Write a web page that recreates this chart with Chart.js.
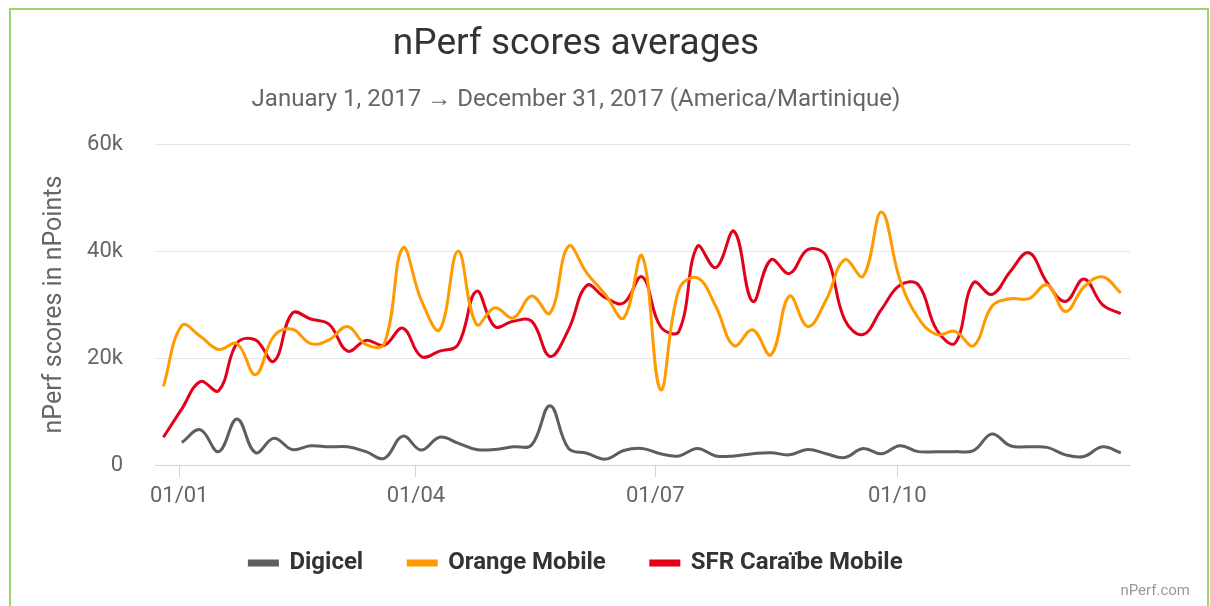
<!DOCTYPE html>
<html>
<head>
<meta charset="utf-8">
<script src="https://cdn.jsdelivr.net/npm/chart.js@4.4.0/dist/chart.umd.min.js"></script>
<style>
    html, body { margin: 0; padding: 0; background: #fff; }
    body { width: 1210px; height: 606px; overflow: hidden; position: relative; font-family: Roboto, sans-serif; }
    #frame { position: absolute; left: 9px; top: 8px; width: 1196px; height: 700px; border: 2px solid #9dd46c; }
    #wrap { position: absolute; left: 0; top: 0; width: 1210px; height: 606px; }
    #credit { position: absolute; right: 20px; bottom: 7px; font-size: 15px; color: #999; }
</style>
</head>
<body>
<div id="frame"></div>
<div id="wrap"><canvas id="scoreChart"></canvas></div>
<div id="credit">nPerf.com</div>
<script>
// weekly points, first week starts Mon 26/12/2016 (day -6 from 01/01/2017)
const weekDays = Array.from({ length: 53 }, (_, i) => -6 + 7 * i);

const digicel = [null, 4200, 6600, 2500, 8600, 2300, 5000, 2900, 3600, 3400, 3400, 2500, 1250, 5400,
    2800, 5200, 4100, 2900, 2900, 3400, 3750, 11100, 3100, 2200, 1100, 2700, 3100, 2100, 1700, 3100,
    1700, 1700, 2100, 2300, 1900, 2900, 2100, 1400, 3100, 2100, 3600, 2500, 2500, 2500, 2700, 5800,
    3600, 3400, 3300, 1900, 1600, 3400, 2300];

const orange = [14700, 26100, 24100, 21600, 22700, 16900, 24100, 25400, 22700, 23400, 25900, 22500,
    22700, 40600, 30900, 25300, 40000, 26300, 29400, 27500, 31600, 28400, 40900, 35900, 31900, 27500,
    39100, 14100, 32800, 35000, 29700, 22300, 25300, 20600, 31600, 25900, 30900, 38400, 35300, 47300,
    34700, 27500, 24400, 25000, 22300, 29700, 31100, 31100, 33700, 28700, 33300, 35200, 32200];

const sfr = [5200, 10500, 15600, 13900, 22800, 23400, 19400, 28400, 27300, 26300, 21300, 23300, 22400,
    25600, 20300, 21300, 22500, 32500, 25900, 26900, 26900, 20300, 25300, 33600, 31300, 30300, 35200,
    25900, 25000, 40900, 36900, 43700, 30600, 38400, 35800, 40300, 39100, 27200, 24400, 29100, 33600,
    33700, 25300, 22800, 34100, 31900, 36200, 39700, 34100, 30600, 34800, 30000, 28300];

const seriesNames = ["Digicel", "Orange Mobile", "SFR Caraïbe Mobile"];
const seriesColors = ["#5e5e5e", "#ff9a00", "#e3001b"];

const xTickDays = [0, 90, 181, 273];
const xTickLabels = ["01/01", "01/04", "01/07", "01/10"];
const yTickValues = [0, 20000, 40000, 60000];
const yTickLabels = ["0", "20k", "40k", "60k"];

function toPoints(values) {
    return values.map((v, i) => ({ x: weekDays[i], y: v }));
}

const datasets = [digicel, orange, sfr].map((values, i) => ({
    label: seriesNames[i],
    data: toPoints(values),
    borderColor: seriesColors[i],
    backgroundColor: seriesColors[i],
    borderWidth: 3,
    pointRadius: 0,
    tension: 0.4,
    fill: false
}));

const ctx = document.getElementById("scoreChart").getContext("2d");
new Chart(ctx, {
    type: "line",
    data: { datasets: datasets },
    options: {
        responsive: true,
        maintainAspectRatio: false,
        animation: false,
        devicePixelRatio: 1,
        layout: { padding: { left: 22, right: 80, top: 0, bottom: 21 } },
        plugins: {
            title: {
                display: true,
                text: "nPerf scores averages",
                color: "#333333",
                font: { family: "Roboto", size: 37, weight: "normal" },
                padding: { top: 23, bottom: 0 }
            },
            subtitle: {
                display: true,
                text: "January 1, 2017 → December 31, 2017 (America/Martinique)",
                color: "#666666",
                font: { family: "Roboto", size: 24 },
                padding: { top: 18, bottom: 30 }
            },
            legend: {
                position: "bottom",
                labels: {
                    color: "#333333",
                    font: { family: "Roboto", size: 24, weight: "bold" },
                    boxWidth: 28,
                    boxHeight: 4,
                    padding: 45
                }
            },
            tooltip: { enabled: false }
        },
        scales: {
            x: {
                type: "linear",
                min: -9.2,
                max: 361.5,
                afterBuildTicks: function (scale) {
                    scale.ticks = xTickDays.map(v => ({ value: v }));
                },
                afterFit: function (scale) { scale.height = 41; },
                ticks: {
                    color: "#666666",
                    font: { family: "Roboto", size: 22 },
                    padding: 6,
                    maxRotation: 0,
                    callback: function (value) {
                        return xTickLabels[xTickDays.indexOf(value)];
                    }
                },
                grid: {
                    drawOnChartArea: false,
                    drawTicks: true,
                    tickLength: 12,
                    color: "#ccd6eb"
                },
                border: { color: "#ccd6eb", width: 1 }
            },
            y: {
                min: 0,
                max: 60000,
                afterBuildTicks: function (scale) {
                    scale.ticks = yTickValues.map(v => ({ value: v }));
                },
                afterFit: function (scale) { scale.width = 133; },
                ticks: {
                    color: "#666666",
                    font: { family: "Roboto", size: 22 },
                    padding: 32,
                    callback: function (value) {
                        return yTickLabels[yTickValues.indexOf(value)];
                    }
                },
                grid: { color: "#e6e6e6", drawTicks: false },
                border: { display: false },
                title: {
                    display: true,
                    text: "nPerf scores in nPoints",
                    color: "#666666",
                    font: { family: "Roboto", size: 25 },
                    padding: { top: 18, bottom: 0 }
                }
            }
        }
    }
});
</script>
</body>
</html>
